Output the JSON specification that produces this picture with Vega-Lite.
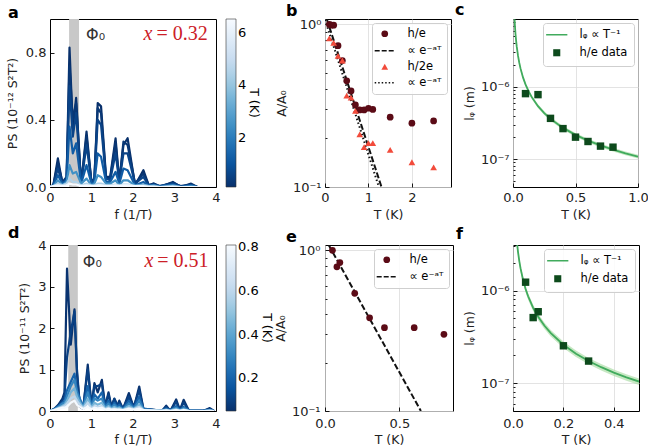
{
  "$schema": "https://vega.github.io/schema/vega-lite/v6.json",
  "background": "white",
  "padding": {"left": 5, "top": 1, "right": 5, "bottom": 5},
  "config": {
    "font": "DejaVu Sans",
    "view": {"stroke": "#000", "strokeWidth": 1},
    "axis": {
      "domain": false, "grid": false, "tickColor": "#000", "tickSize": -4, "tickWidth": 0.9,
      "labelPadding": 8, "labelFontSize": 13, "labelColor": "#222", "titleFontSize": 12.5,
      "titleFontWeight": "normal", "titleColor": "#222", "labelFlush": false, "labelOverlap": false,
      "gridColor": "#dcdcdc", "gridWidth": 0.8
    },
    "title": {"fontSize": 16, "fontWeight": "bold", "anchor": "start", "color": "#000", "frame": "group"},
    "legend": {"labelFont": "DejaVu Sans", "titleFont": "DejaVu Sans"}
  },
  "resolve": {
    "scale": {"color": "independent", "shape": "independent", "strokeDash": "independent"},
    "legend": {"color": "independent", "shape": "independent"}
  },
  "datasets": {
    "fitC": [
      {"T": 0.0125, "l": 8.64e-6, "lo": 8.12e-6, "hi": 9.16e-6},
      {"T": 0.015, "l": 7.2e-6, "lo": 6.77e-6, "hi": 7.63e-6},
      {"T": 0.02, "l": 5.4e-6, "lo": 5.08e-6, "hi": 5.72e-6},
      {"T": 0.025, "l": 4.32e-6, "lo": 4.06e-6, "hi": 4.58e-6},
      {"T": 0.03, "l": 3.6e-6, "lo": 3.38e-6, "hi": 3.82e-6},
      {"T": 0.04, "l": 2.7e-6, "lo": 2.54e-6, "hi": 2.86e-6},
      {"T": 0.05, "l": 2.16e-6, "lo": 2.03e-6, "hi": 2.29e-6},
      {"T": 0.06, "l": 1.8e-6, "lo": 1.69e-6, "hi": 1.91e-6},
      {"T": 0.08, "l": 1.35e-6, "lo": 1.27e-6, "hi": 1.43e-6},
      {"T": 0.1, "l": 1.08e-6, "lo": 1.015e-6, "hi": 1.145e-6},
      {"T": 0.125, "l": 8.64e-7, "lo": 8.12e-7, "hi": 9.16e-7},
      {"T": 0.15, "l": 7.2e-7, "lo": 6.77e-7, "hi": 7.63e-7},
      {"T": 0.2, "l": 5.4e-7, "lo": 5.08e-7, "hi": 5.72e-7},
      {"T": 0.25, "l": 4.32e-7, "lo": 4.06e-7, "hi": 4.58e-7},
      {"T": 0.3, "l": 3.6e-7, "lo": 3.38e-7, "hi": 3.82e-7},
      {"T": 0.4, "l": 2.7e-7, "lo": 2.54e-7, "hi": 2.86e-7},
      {"T": 0.5, "l": 2.16e-7, "lo": 2.03e-7, "hi": 2.29e-7},
      {"T": 0.6, "l": 1.8e-7, "lo": 1.69e-7, "hi": 1.91e-7},
      {"T": 0.7, "l": 1.543e-7, "lo": 1.45e-7, "hi": 1.636e-7},
      {"T": 0.8, "l": 1.35e-7, "lo": 1.27e-7, "hi": 1.43e-7},
      {"T": 0.9, "l": 1.2e-7, "lo": 1.128e-7, "hi": 1.272e-7},
      {"T": 1.0, "l": 1.08e-7, "lo": 1.015e-7, "hi": 1.145e-7}
    ],
    "fitF": [
      {"T": 0.016, "l": 3.25e-6, "lo": 2.99e-6, "hi": 3.51e-6},
      {"T": 0.02, "l": 2.6e-6, "lo": 2.39e-6, "hi": 2.81e-6},
      {"T": 0.025, "l": 2.08e-6, "lo": 1.91e-6, "hi": 2.25e-6},
      {"T": 0.03, "l": 1.733e-6, "lo": 1.595e-6, "hi": 1.872e-6},
      {"T": 0.04, "l": 1.3e-6, "lo": 1.196e-6, "hi": 1.404e-6},
      {"T": 0.05, "l": 1.04e-6, "lo": 9.57e-7, "hi": 1.123e-6},
      {"T": 0.06, "l": 8.67e-7, "lo": 7.97e-7, "hi": 9.36e-7},
      {"T": 0.08, "l": 6.5e-7, "lo": 5.98e-7, "hi": 7.02e-7},
      {"T": 0.1, "l": 5.2e-7, "lo": 4.78e-7, "hi": 5.62e-7},
      {"T": 0.125, "l": 4.16e-7, "lo": 3.83e-7, "hi": 4.49e-7},
      {"T": 0.15, "l": 3.47e-7, "lo": 3.19e-7, "hi": 3.74e-7},
      {"T": 0.2, "l": 2.6e-7, "lo": 2.39e-7, "hi": 2.81e-7},
      {"T": 0.25, "l": 2.08e-7, "lo": 1.91e-7, "hi": 2.25e-7},
      {"T": 0.3, "l": 1.733e-7, "lo": 1.595e-7, "hi": 1.872e-7},
      {"T": 0.35, "l": 1.486e-7, "lo": 1.367e-7, "hi": 1.605e-7},
      {"T": 0.4, "l": 1.3e-7, "lo": 1.196e-7, "hi": 1.404e-7},
      {"T": 0.45, "l": 1.156e-7, "lo": 1.063e-7, "hi": 1.248e-7},
      {"T": 0.5, "l": 1.04e-7, "lo": 9.57e-8, "hi": 1.123e-7}
    ]
  },
  "bounds": "flush",
  "columns": 5,
  "spacing": {"row": 58, "column": 0},
  "concat": [
    {
      "width": 166, "height": 168,
      "title": {"text": "a", "dx": -42, "offset": -2},
      "layer": [
        {
          "data": {"values": [{"lo": 0.46, "hi": 0.70}]},
          "mark": {"type": "rect", "color": "#c8c8c8"},
          "encoding": {
            "x": {"field": "lo", "type": "quantitative", "scale": {"domain": [0, 4], "nice": false},
                  "axis": {"values": [0, 1, 2, 3, 4], "format": "d", "title": "f (1/T)", "titlePadding": 4}},
            "x2": {"field": "hi"},
            "y": {"datum": 0, "type": "quantitative", "scale": {"domain": [0, 1], "nice": false},
                  "axis": {"values": [0, 0.2, 0.4, 0.6, 0.8, 1.0], "format": ".1f", "title": "PS (10⁻¹² S²T²)", "titlePadding": 6}},
            "y2": {"datum": 1}
          }
        },
        {
          "data": {"values": [
            {"f": 0.0, "c1": 0, "c2": 0, "c3": 0, "c4": 0, "c5": 0, "c6": 0, "c7": 0},
            {"f": 0.08, "c1": 0.01, "c2": 0.01, "c3": 0.01, "c4": 0.01, "c5": 0.005, "c6": 0.005, "c7": 0.005},
            {"f": 0.19, "c1": 0.17, "c2": 0.14, "c3": 0.11, "c4": 0.07, "c5": 0.04, "c6": 0.02, "c7": 0.01},
            {"f": 0.3, "c1": 0.02, "c2": 0.03, "c3": 0.02, "c4": 0.02, "c5": 0.01, "c6": 0.01, "c7": 0.005},
            {"f": 0.4, "c1": 0.05, "c2": 0.06, "c3": 0.05, "c4": 0.04, "c5": 0.03, "c6": 0.02, "c7": 0.01},
            {"f": 0.47, "c1": 0.83, "c2": 0.72, "c3": 0.6, "c4": 0.36, "c5": 0.13, "c6": 0.05, "c7": 0.02},
            {"f": 0.55, "c1": 0.35, "c2": 0.4, "c3": 0.3, "c4": 0.2, "c5": 0.08, "c6": 0.03, "c7": 0.015},
            {"f": 0.63, "c1": 0.53, "c2": 0.5, "c3": 0.44, "c4": 0.26, "c5": 0.09, "c6": 0.03, "c7": 0.015},
            {"f": 0.75, "c1": 0.01, "c2": 0.02, "c3": 0.02, "c4": 0.02, "c5": 0.02, "c6": 0.01, "c7": 0.005},
            {"f": 0.88, "c1": 0.33, "c2": 0.3, "c3": 0.25, "c4": 0.13, "c5": 0.05, "c6": 0.02, "c7": 0.01},
            {"f": 1.0, "c1": 0.02, "c2": 0.03, "c3": 0.03, "c4": 0.02, "c5": 0.01, "c6": 0.01, "c7": 0.005},
            {"f": 1.07, "c1": 0.05, "c2": 0.05, "c3": 0.04, "c4": 0.03, "c5": 0.02, "c6": 0.01, "c7": 0.005},
            {"f": 1.15, "c1": 0.5, "c2": 0.47, "c3": 0.4, "c4": 0.2, "c5": 0.07, "c6": 0.02, "c7": 0.01},
            {"f": 1.23, "c1": 0.48, "c2": 0.44, "c3": 0.37, "c4": 0.18, "c5": 0.06, "c6": 0.02, "c7": 0.01},
            {"f": 1.35, "c1": 0.06, "c2": 0.05, "c3": 0.05, "c4": 0.03, "c5": 0.02, "c6": 0.01, "c7": 0.005},
            {"f": 1.45, "c1": 0.06, "c2": 0.05, "c3": 0.04, "c4": 0.03, "c5": 0.02, "c6": 0.01, "c7": 0.005},
            {"f": 1.58, "c1": 0.29, "c2": 0.26, "c3": 0.2, "c4": 0.09, "c5": 0.04, "c6": 0.015, "c7": 0.01},
            {"f": 1.67, "c1": 0.03, "c2": 0.03, "c3": 0.03, "c4": 0.02, "c5": 0.01, "c6": 0.01, "c7": 0.005},
            {"f": 1.77, "c1": 0.25, "c2": 0.27, "c3": 0.2, "c4": 0.11, "c5": 0.04, "c6": 0.015, "c7": 0.01},
            {"f": 1.87, "c1": 0.29, "c2": 0.25, "c3": 0.2, "c4": 0.1, "c5": 0.04, "c6": 0.015, "c7": 0.01},
            {"f": 2.05, "c1": 0.01, "c2": 0.02, "c3": 0.02, "c4": 0.01, "c5": 0.01, "c6": 0.005, "c7": 0.005},
            {"f": 2.25, "c1": 0.1, "c2": 0.08, "c3": 0.06, "c4": 0.03, "c5": 0.015, "c6": 0.01, "c7": 0.005},
            {"f": 2.38, "c1": 0.01, "c2": 0.01, "c3": 0.01, "c4": 0.01, "c5": 0.005, "c6": 0.005, "c7": 0},
            {"f": 2.5, "c1": 0.02, "c2": 0.02, "c3": 0.015, "c4": 0.01, "c5": 0.01, "c6": 0.005, "c7": 0},
            {"f": 2.65, "c1": 0.0, "c2": 0.005, "c3": 0.005, "c4": 0.005, "c5": 0, "c6": 0, "c7": 0},
            {"f": 2.96, "c1": 0.03, "c2": 0.025, "c3": 0.02, "c4": 0.015, "c5": 0.01, "c6": 0.005, "c7": 0},
            {"f": 3.15, "c1": 0.0, "c2": 0.005, "c3": 0.005, "c4": 0, "c5": 0, "c6": 0, "c7": 0},
            {"f": 3.4, "c1": 0.02, "c2": 0.015, "c3": 0.01, "c4": 0.01, "c5": 0.005, "c6": 0, "c7": 0},
            {"f": 3.55, "c1": 0, "c2": 0, "c3": 0, "c4": 0, "c5": 0, "c6": 0, "c7": 0},
            {"f": 4.0, "c1": 0, "c2": 0, "c3": 0, "c4": 0, "c5": 0, "c6": 0, "c7": 0}
          ]},
          "transform": [
            {"fold": ["c1", "c2", "c3", "c4", "c5", "c6", "c7"], "as": ["curve", "PS"]},
            {"lookup": "curve", "from": {"data": {"values": [
              {"curve": "c1", "T": 0.13}, {"curve": "c2", "T": 0.3}, {"curve": "c3", "T": 0.6},
              {"curve": "c4", "T": 1.2}, {"curve": "c5", "T": 2.5}, {"curve": "c6", "T": 4.5}, {"curve": "c7", "T": 6.5}
            ]}, "key": "curve", "fields": ["T"]}}
          ],
          "mark": {"type": "line", "strokeWidth": 2.2, "strokeJoin": "round", "clip": true},
          "encoding": {
            "x": {"field": "f", "type": "quantitative"},
            "y": {"field": "PS", "type": "quantitative"},
            "detail": {"field": "curve"},
            "color": {
              "field": "T", "type": "quantitative",
              "scale": {
                "domain": [0.13, 0.93, 1.73, 2.53, 3.33, 4.13, 4.93, 5.73, 6.53],
                "range": ["#08306b", "#08519c", "#2171b5", "#4292c6", "#6baed6", "#9ecae1", "#c6dbef", "#deebf7", "#f7fbff"]
              },
              "legend": {
                "orient": "none", "legendX": 176, "legendY": 0, "direction": "vertical",
                "gradientLength": 168, "gradientThickness": 10, "values": [2, 4, 6], "format": "d",
                "title": "T (K)", "titleOrient": "right", "titleAngle": 270, "titleAnchor": "middle", "titlePadding": 1,
                "titleFontSize": 12.5, "titleFontWeight": "normal", "labelFontSize": 13, "labelOverlap": false,
                "gradientStrokeColor": "#333", "gradientStrokeWidth": 0.6
              }
            }
          }
        },
        {
          "data": {"values": [{}]},
          "mark": {"type": "text", "text": "Φ₀", "align": "left", "baseline": "alphabetic", "fontSize": 16, "color": "#333"},
          "encoding": {"x": {"datum": 0.87}, "y": {"datum": 0.875}}
        },
        {
          "data": {"values": [{}]},
          "mark": {"type": "text", "text": "x", "align": "right", "baseline": "alphabetic", "font": "Liberation Serif", "fontStyle": "italic", "fontSize": 20, "color": "#cc2027"},
          "encoding": {"x": {"datum": 2.47}, "y": {"datum": 0.875}}
        },
        {
          "data": {"values": [{}]},
          "mark": {"type": "text", "text": "= 0.32", "align": "right", "baseline": "alphabetic", "font": "Liberation Serif", "fontSize": 20, "color": "#cc2027"},
          "encoding": {"x": {"datum": 3.8}, "y": {"datum": 0.875}}
        }
      ]
    },
    {"width": 109, "height": 10, "data": {"values": [{}]}, "mark": {"type": "point", "opacity": 0}, "view": {"stroke": null}},
    {
      "width": 126, "height": 168,
      "title": {"text": "b", "dx": -39, "offset": -2},
      "layer": [
        {
          "data": {"values": [
            {"T": 0.04, "A": 1.08, "s": "fit1"}, {"T": 1.3, "A": 0.1, "s": "fit1"},
            {"T": 0.0, "A": 1.07, "s": "fit2"}, {"T": 1.24, "A": 0.1, "s": "fit2"}
          ]},
          "mark": {"type": "line", "strokeWidth": 2, "clip": true, "color": "#111111"},
          "encoding": {
            "x": {"field": "T", "type": "quantitative", "scale": {"domain": [0, 2.9], "nice": false},
                  "axis": {"values": [0, 1, 2], "format": "d", "grid": true, "title": "T (K)", "titlePadding": 4}},
            "y": {"field": "A", "type": "quantitative", "scale": {"type": "log", "domain": [0.1, 1.08], "nice": false},
                  "axis": {"values": [0.1, 0.2, 0.3, 0.4, 0.5, 0.6, 0.7, 0.8, 0.9, 1.0],
                           "labelExpr": "datum.value == 1 ? '10⁰' : datum.value == 0.1 ? '10⁻¹' : ''",
                           "grid": true, "gridOpacity": {"condition": {"test": "datum.value == 1 || datum.value == 0.1", "value": 1}, "value": 0},
                           "tickSize": {"condition": {"test": "datum.value == 1 || datum.value == 0.1", "value": -4}, "value": -2},
                           "title": "A/A₀", "titlePadding": 4}},
            "detail": {"field": "s"},
            "strokeDash": {"condition": {"test": "datum.s == 'fit1'", "value": [6, 2.5]}, "value": [1.5, 2.5]}
          }
        },
        {
          "data": {"values": [
            {"T": 0.1, "A": 1.0, "s": "h/e"}, {"T": 0.15, "A": 0.99, "s": "h/e"}, {"T": 0.2, "A": 0.99, "s": "h/e"},
            {"T": 0.3, "A": 0.74, "s": "h/e"}, {"T": 0.4, "A": 0.6, "s": "h/e"}, {"T": 0.5, "A": 0.45, "s": "h/e"},
            {"T": 0.6, "A": 0.39, "s": "h/e"}, {"T": 0.7, "A": 0.32, "s": "h/e"}, {"T": 0.8, "A": 0.298, "s": "h/e"},
            {"T": 0.9, "A": 0.298, "s": "h/e"}, {"T": 1.0, "A": 0.305, "s": "h/e"}, {"T": 1.1, "A": 0.3, "s": "h/e"},
            {"T": 1.5, "A": 0.269, "s": "h/e"}, {"T": 2.0, "A": 0.247, "s": "h/e"}, {"T": 2.5, "A": 0.255, "s": "h/e"},
            {"T": 0.1, "A": 0.82, "s": "h/2e"}, {"T": 0.2, "A": 0.77, "s": "h/2e"}, {"T": 0.3, "A": 0.64, "s": "h/2e"},
            {"T": 0.4, "A": 0.6, "s": "h/2e"}, {"T": 0.5, "A": 0.365, "s": "h/2e"}, {"T": 0.6, "A": 0.355, "s": "h/2e"},
            {"T": 0.7, "A": 0.294, "s": "h/2e"}, {"T": 0.8, "A": 0.211, "s": "h/2e"}, {"T": 0.9, "A": 0.176, "s": "h/2e"},
            {"T": 1.0, "A": 0.186, "s": "h/2e"}, {"T": 1.1, "A": 0.186, "s": "h/2e"}, {"T": 1.5, "A": 0.169, "s": "h/2e"},
            {"T": 2.0, "A": 0.142, "s": "h/2e"}, {"T": 2.5, "A": 0.132, "s": "h/2e"}
          ]},
          "mark": {
            "type": "point", "filled": true, "size": 45, "opacity": 1, "strokeWidth": 2,
            "fill": {"expr": "datum.s == 'h/e' || datum.value == 'h/e' ? '#5b0b16' : datum.s == 'h/2e' || datum.value == 'h/2e' ? '#f24b3b' : 'transparent'"},
            "stroke": {"expr": "datum.value == 'fit1' || datum.value == 'fit2' ? '#111111' : 'transparent'"}
          },
          "encoding": {
            "x": {"field": "T", "type": "quantitative"},
            "y": {"field": "A", "type": "quantitative"},
            "shape": {
              "field": "s", "type": "nominal",
              "scale": {"domain": ["h/e", "fit1", "h/2e", "fit2"], "range": ["circle", "M-3,0H3", "triangle-up", "M-3,0H3"]},
              "legend": {
                "title": null, "orient": "top-right", "offset": 4, "padding": 5, "rowPadding": 3,
                "fillColor": "rgba(255,255,255,0.85)", "strokeColor": "#cfcfcf", "cornerRadius": 3,
                "labelFontSize": 11.5, "symbolOffset": 2, "labelOffset": 17, "symbolSize": 45,
                "symbolDash": {"expr": "datum.value == 'fit1' ? [5, 2] : datum.value == 'fit2' ? [1.5, 2] : [1, 0]"},
                "labelExpr": "datum.label == 'fit1' || datum.label == 'fit2' ? '∝ e⁻ᵃᵀ' : datum.label"
              }
            }
          }
        }
      ]
    },
    {"width": 60, "height": 10, "data": {"values": [{}]}, "mark": {"type": "point", "opacity": 0}, "view": {"stroke": null}},
    {
      "width": 125, "height": 168,
      "title": {"text": "c", "dx": -58, "offset": -2},
      "layer": [
        {
          "data": {"name": "fitC"},
          "mark": {"type": "area", "color": "#a1d99b", "opacity": 0.6, "clip": true},
          "encoding": {
            "x": {"field": "T", "type": "quantitative", "scale": {"domain": [0, 1], "nice": false},
                  "axis": {"values": [0, 0.5, 1], "format": ".1f", "grid": true, "title": "T (K)", "titlePadding": 4}},
            "y": {"field": "lo", "type": "quantitative", "scale": {"type": "log", "domain": [4.1e-8, 8.7e-6], "nice": false},
                  "axis": {"values": [5e-8, 6e-8, 7e-8, 8e-8, 9e-8, 1e-7, 2e-7, 3e-7, 4e-7, 5e-7, 6e-7, 7e-7, 8e-7, 9e-7, 1e-6, 2e-6, 3e-6, 4e-6, 5e-6, 6e-6, 7e-6, 8e-6],
                           "labelExpr": "datum.value == 1e-6 ? '10⁻⁶' : datum.value == 1e-7 ? '10⁻⁷' : ''",
                           "grid": true, "gridOpacity": {"condition": {"test": "datum.value == 1e-6 || datum.value == 1e-7", "value": 1}, "value": 0},
                           "tickSize": {"condition": {"test": "datum.value == 1e-6 || datum.value == 1e-7", "value": -4}, "value": -2},
                           "title": "lᵩ (m)", "titlePadding": 4}},
            "y2": {"field": "hi"}
          }
        },
        {
          "data": {"name": "fitC"},
          "mark": {"type": "line", "color": "#41ab5d", "strokeWidth": 1.8, "clip": true},
          "encoding": {"x": {"field": "T", "type": "quantitative"}, "y": {"field": "l", "type": "quantitative"}}
        },
        {
          "data": {"values": [
            {"T": 0.1, "l": 8.05e-7, "s": "h/e data"}, {"T": 0.2, "l": 7.8e-7, "s": "h/e data"},
            {"T": 0.3, "l": 3.66e-7, "s": "h/e data"}, {"T": 0.4, "l": 2.64e-7, "s": "h/e data"},
            {"T": 0.5, "l": 2.01e-7, "s": "h/e data"}, {"T": 0.6, "l": 1.75e-7, "s": "h/e data"},
            {"T": 0.7, "l": 1.51e-7, "s": "h/e data"}, {"T": 0.8, "l": 1.46e-7, "s": "h/e data"}
          ]},
          "mark": {
            "type": "point", "filled": true, "size": 55, "opacity": 1, "strokeWidth": 2,
            "fill": {"expr": "datum.value == 'fit' ? 'transparent' : '#0d4a1c'"},
            "stroke": {"expr": "datum.value == 'fit' ? '#41ab5d' : 'transparent'"}
          },
          "encoding": {
            "x": {"field": "T", "type": "quantitative"},
            "y": {"field": "l", "type": "quantitative"},
            "shape": {
              "field": "s", "type": "nominal",
              "scale": {"domain": ["fit", "h/e data"], "range": ["M-3,0H3", "square"]},
              "legend": {
                "title": null, "orient": "top-right", "offset": 4, "padding": 6, "rowPadding": 5,
                "fillColor": "rgba(255,255,255,0.85)", "strokeColor": "#cfcfcf", "cornerRadius": 3,
                "labelFontSize": 11.5, "symbolOffset": 2, "labelOffset": 17, "symbolSize": 50,
                "labelExpr": "datum.label == 'fit' ? 'lᵩ ∝ T⁻¹' : datum.label"
              }
            }
          }
        }
      ]
    },
    {
      "width": 166, "height": 166,
      "title": {"text": "d", "dx": -42, "offset": -2},
      "layer": [
        {
          "data": {"values": [{"lo": 0.44, "hi": 0.67}]},
          "mark": {"type": "rect", "color": "#c8c8c8"},
          "encoding": {
            "x": {"field": "lo", "type": "quantitative", "scale": {"domain": [0, 4], "nice": false},
                  "axis": {"values": [0, 1, 2, 3, 4], "format": "d", "title": "f (1/T)", "titlePadding": 3, "labelPadding": 10}},
            "x2": {"field": "hi"},
            "y": {"datum": 0, "type": "quantitative", "scale": {"domain": [0, 4], "nice": false},
                  "axis": {"values": [0, 1, 2, 3, 4], "format": "d", "title": "PS (10⁻¹¹ S²T²)", "titlePadding": 6}},
            "y2": {"datum": 4}
          }
        },
        {
          "data": {"values": [
            {"f": 0.0, "c1": 0, "c2": 0, "c3": 0, "c4": 0, "c5": 0, "c6": 0, "c7": 0},
            {"f": 0.1, "c1": 0.05, "c2": 0.05, "c3": 0.04, "c4": 0.04, "c5": 0.03, "c6": 0.02, "c7": 0.02},
            {"f": 0.2, "c1": 0.15, "c2": 0.12, "c3": 0.12, "c4": 0.1, "c5": 0.08, "c6": 0.06, "c7": 0.05},
            {"f": 0.3, "c1": 0.3, "c2": 0.25, "c3": 0.2, "c4": 0.18, "c5": 0.12, "c6": 0.1, "c7": 0.08},
            {"f": 0.35, "c1": 0.45, "c2": 0.35, "c3": 0.25, "c4": 0.2, "c5": 0.15, "c6": 0.12, "c7": 0.08},
            {"f": 0.41, "c1": 3.43, "c2": 1.3, "c3": 0.5, "c4": 0.35, "c5": 0.25, "c6": 0.18, "c7": 0.1},
            {"f": 0.5, "c1": 1.6, "c2": 1.9, "c3": 0.7, "c4": 0.6, "c5": 0.45, "c6": 0.3, "c7": 0.2},
            {"f": 0.59, "c1": 2.45, "c2": 2.4, "c3": 0.9, "c4": 0.75, "c5": 0.55, "c6": 0.35, "c7": 0.25},
            {"f": 0.65, "c1": 0.9, "c2": 1.0, "c3": 0.5, "c4": 0.45, "c5": 0.35, "c6": 0.25, "c7": 0.15},
            {"f": 0.72, "c1": 0.1, "c2": 0.12, "c3": 0.3, "c4": 0.25, "c5": 0.2, "c6": 0.15, "c7": 0.1},
            {"f": 0.8, "c1": 0.05, "c2": 0.08, "c3": 0.1, "c4": 0.1, "c5": 0.08, "c6": 0.06, "c7": 0.05},
            {"f": 0.91, "c1": 1.12, "c2": 1.0, "c3": 0.6, "c4": 0.45, "c5": 0.3, "c6": 0.2, "c7": 0.1},
            {"f": 1.0, "c1": 0.1, "c2": 0.15, "c3": 0.12, "c4": 0.1, "c5": 0.08, "c6": 0.06, "c7": 0.04},
            {"f": 1.07, "c1": 0.67, "c2": 0.6, "c3": 0.4, "c4": 0.3, "c5": 0.2, "c6": 0.12, "c7": 0.08},
            {"f": 1.15, "c1": 0.45, "c2": 0.6, "c3": 0.3, "c4": 0.25, "c5": 0.15, "c6": 0.1, "c7": 0.06},
            {"f": 1.25, "c1": 0.75, "c2": 0.65, "c3": 0.45, "c4": 0.3, "c5": 0.2, "c6": 0.12, "c7": 0.08},
            {"f": 1.33, "c1": 0.1, "c2": 0.12, "c3": 0.1, "c4": 0.08, "c5": 0.06, "c6": 0.04, "c7": 0.03},
            {"f": 1.41, "c1": 0.45, "c2": 0.4, "c3": 0.25, "c4": 0.18, "c5": 0.12, "c6": 0.08, "c7": 0.05},
            {"f": 1.48, "c1": 0.1, "c2": 0.1, "c3": 0.08, "c4": 0.06, "c5": 0.05, "c6": 0.04, "c7": 0.03},
            {"f": 1.55, "c1": 0.29, "c2": 0.3, "c3": 0.2, "c4": 0.15, "c5": 0.1, "c6": 0.06, "c7": 0.04},
            {"f": 1.62, "c1": 0.12, "c2": 0.15, "c3": 0.1, "c4": 0.08, "c5": 0.06, "c6": 0.04, "c7": 0.03},
            {"f": 1.67, "c1": 0.25, "c2": 0.2, "c3": 0.15, "c4": 0.1, "c5": 0.08, "c6": 0.05, "c7": 0.03},
            {"f": 1.76, "c1": 0.05, "c2": 0.06, "c3": 0.05, "c4": 0.04, "c5": 0.03, "c6": 0.02, "c7": 0.02},
            {"f": 1.9, "c1": 0.43, "c2": 0.35, "c3": 0.25, "c4": 0.18, "c5": 0.12, "c6": 0.08, "c7": 0.05},
            {"f": 2.02, "c1": 0.08, "c2": 0.1, "c3": 0.08, "c4": 0.06, "c5": 0.05, "c6": 0.04, "c7": 0.03},
            {"f": 2.15, "c1": 0.59, "c2": 0.5, "c3": 0.35, "c4": 0.25, "c5": 0.15, "c6": 0.1, "c7": 0.06},
            {"f": 2.25, "c1": 0.05, "c2": 0.06, "c3": 0.05, "c4": 0.04, "c5": 0.03, "c6": 0.02, "c7": 0.02},
            {"f": 2.5, "c1": 0.03, "c2": 0.03, "c3": 0.02, "c4": 0.02, "c5": 0.02, "c6": 0.01, "c7": 0.01},
            {"f": 2.7, "c1": 0.0, "c2": 0.01, "c3": 0.01, "c4": 0.01, "c5": 0.01, "c6": 0.01, "c7": 0.0},
            {"f": 2.8, "c1": 0.13, "c2": 0.1, "c3": 0.06, "c4": 0.04, "c5": 0.03, "c6": 0.02, "c7": 0.01},
            {"f": 2.9, "c1": 0.0, "c2": 0.01, "c3": 0.01, "c4": 0.01, "c5": 0.01, "c6": 0.0, "c7": 0.0},
            {"f": 3.04, "c1": 0.28, "c2": 0.22, "c3": 0.12, "c4": 0.08, "c5": 0.05, "c6": 0.03, "c7": 0.02},
            {"f": 3.13, "c1": 0.02, "c2": 0.03, "c3": 0.02, "c4": 0.02, "c5": 0.01, "c6": 0.01, "c7": 0.0},
            {"f": 3.22, "c1": 0.27, "c2": 0.2, "c3": 0.1, "c4": 0.07, "c5": 0.04, "c6": 0.03, "c7": 0.02},
            {"f": 3.35, "c1": 0.0, "c2": 0.01, "c3": 0.01, "c4": 0.01, "c5": 0.0, "c6": 0.0, "c7": 0.0},
            {"f": 3.7, "c1": 0.0, "c2": 0.01, "c3": 0.01, "c4": 0.0, "c5": 0.0, "c6": 0.0, "c7": 0.0},
            {"f": 3.85, "c1": 0.07, "c2": 0.05, "c3": 0.03, "c4": 0.02, "c5": 0.01, "c6": 0.01, "c7": 0.0},
            {"f": 3.95, "c1": 0, "c2": 0, "c3": 0, "c4": 0, "c5": 0, "c6": 0, "c7": 0}
          ]},
          "transform": [
            {"fold": ["c1", "c2", "c3", "c4", "c5", "c6", "c7"], "as": ["curve", "PS"]},
            {"lookup": "curve", "from": {"data": {"values": [
              {"curve": "c1", "T": 0.06}, {"curve": "c2", "T": 0.1}, {"curve": "c3", "T": 0.2},
              {"curve": "c4", "T": 0.3}, {"curve": "c5", "T": 0.45}, {"curve": "c6", "T": 0.6}, {"curve": "c7", "T": 0.8}
            ]}, "key": "curve", "fields": ["T"]}}
          ],
          "mark": {"type": "line", "strokeWidth": 2.2, "strokeJoin": "round", "clip": true},
          "encoding": {
            "x": {"field": "f", "type": "quantitative"},
            "y": {"field": "PS", "type": "quantitative"},
            "detail": {"field": "curve"},
            "color": {
              "field": "T", "type": "quantitative",
              "scale": {
                "domain": [0.05, 0.145, 0.24, 0.335, 0.43, 0.525, 0.62, 0.715, 0.81],
                "range": ["#08306b", "#08519c", "#2171b5", "#4292c6", "#6baed6", "#9ecae1", "#c6dbef", "#deebf7", "#f7fbff"]
              },
              "legend": {
                "orient": "none", "legendX": 176, "legendY": 0, "direction": "vertical",
                "gradientLength": 166, "gradientThickness": 10, "values": [0.2, 0.4, 0.6, 0.8], "format": ".1f",
                "title": "T (K)", "titleOrient": "right", "titleAngle": 270, "titleAnchor": "middle", "titlePadding": 1,
                "titleFontSize": 12.5, "titleFontWeight": "normal", "labelFontSize": 13, "labelOverlap": false,
                "gradientStrokeColor": "#333", "gradientStrokeWidth": 0.6
              }
            }
          }
        },
        {
          "data": {"values": [{}]},
          "mark": {"type": "text", "text": "Φ₀", "align": "left", "baseline": "alphabetic", "fontSize": 16, "color": "#333"},
          "encoding": {"x": {"datum": 0.79}, "y": {"datum": 3.46}}
        },
        {
          "data": {"values": [{}]},
          "mark": {"type": "text", "text": "x", "align": "right", "baseline": "alphabetic", "font": "Liberation Serif", "fontStyle": "italic", "fontSize": 20, "color": "#cc2027"},
          "encoding": {"x": {"datum": 2.49}, "y": {"datum": 3.46}}
        },
        {
          "data": {"values": [{}]},
          "mark": {"type": "text", "text": "= 0.51", "align": "right", "baseline": "alphabetic", "font": "Liberation Serif", "fontSize": 20, "color": "#cc2027"},
          "encoding": {"x": {"datum": 3.82}, "y": {"datum": 3.46}}
        }
      ]
    },
    {"width": 109, "height": 10, "data": {"values": [{}]}, "mark": {"type": "point", "opacity": 0}, "view": {"stroke": null}},
    {
      "width": 128, "height": 166,
      "title": {"text": "e", "dx": -39, "offset": -2},
      "layer": [
        {
          "data": {"values": [
            {"T": 0.025, "A": 1.08, "s": "fit1"}, {"T": 0.645, "A": 0.1, "s": "fit1"}
          ]},
          "mark": {"type": "line", "strokeWidth": 2, "clip": true, "color": "#111111", "strokeDash": [6, 2.5]},
          "encoding": {
            "x": {"field": "T", "type": "quantitative", "scale": {"domain": [0, 0.861], "nice": false},
                  "axis": {"values": [0, 0.5], "format": ".1f", "grid": true, "title": "T (K)", "titlePadding": 3, "labelPadding": 10}},
            "y": {"field": "A", "type": "quantitative", "scale": {"type": "log", "domain": [0.1, 1.08], "nice": false},
                  "axis": {"values": [0.1, 0.2, 0.3, 0.4, 0.5, 0.6, 0.7, 0.8, 0.9, 1.0],
                           "labelExpr": "datum.value == 1 ? '10⁰' : datum.value == 0.1 ? '10⁻¹' : ''",
                           "grid": true, "gridOpacity": {"condition": {"test": "datum.value == 1 || datum.value == 0.1", "value": 1}, "value": 0},
                           "tickSize": {"condition": {"test": "datum.value == 1 || datum.value == 0.1", "value": -4}, "value": -2},
                           "labelPadding": 9, "title": "A/A₀", "titlePadding": 4}}
          }
        },
        {
          "data": {"values": [
            {"T": 0.05, "A": 1.0, "s": "h/e"}, {"T": 0.08, "A": 0.79, "s": "h/e"}, {"T": 0.1, "A": 0.84, "s": "h/e"},
            {"T": 0.2, "A": 0.54, "s": "h/e"}, {"T": 0.3, "A": 0.38, "s": "h/e"}, {"T": 0.4, "A": 0.33, "s": "h/e"},
            {"T": 0.6, "A": 0.33, "s": "h/e"}, {"T": 0.8, "A": 0.3, "s": "h/e"}
          ]},
          "mark": {
            "type": "point", "filled": true, "size": 45, "opacity": 1, "strokeWidth": 2,
            "fill": {"expr": "datum.value == 'fit1' ? 'transparent' : '#5b0b16'"},
            "stroke": {"expr": "datum.value == 'fit1' ? '#111111' : 'transparent'"}
          },
          "encoding": {
            "x": {"field": "T", "type": "quantitative"},
            "y": {"field": "A", "type": "quantitative"},
            "shape": {
              "field": "s", "type": "nominal",
              "scale": {"domain": ["h/e", "fit1"], "range": ["circle", "M-3,0H3"]},
              "legend": {
                "title": null, "orient": "top-right", "offset": 4, "padding": 5, "rowPadding": 3,
                "fillColor": "rgba(255,255,255,0.85)", "strokeColor": "#cfcfcf", "cornerRadius": 3,
                "labelFontSize": 11.5, "symbolOffset": 2, "labelOffset": 17, "symbolSize": 45,
                "symbolDash": {"expr": "datum.value == 'fit1' ? [5, 2] : [1, 0]"},
                "labelExpr": "datum.label == 'fit1' ? '∝ e⁻ᵃᵀ' : datum.label"
              }
            }
          }
        }
      ]
    },
    {"width": 60, "height": 10, "data": {"values": [{}]}, "mark": {"type": "point", "opacity": 0}, "view": {"stroke": null}},
    {
      "width": 126, "height": 166,
      "title": {"text": "f", "dx": -57, "offset": -2},
      "layer": [
        {
          "data": {"name": "fitF"},
          "mark": {"type": "area", "color": "#a1d99b", "opacity": 0.6, "clip": true},
          "encoding": {
            "x": {"field": "T", "type": "quantitative", "scale": {"domain": [0, 0.5], "nice": false},
                  "axis": {"values": [0, 0.2, 0.4], "format": ".1f", "grid": true, "title": "T (K)", "titlePadding": 3, "labelPadding": 10}},
            "y": {"field": "lo", "type": "quantitative", "scale": {"type": "log", "domain": [5e-8, 3.1e-6], "nice": false},
                  "axis": {"values": [5e-8, 6e-8, 7e-8, 8e-8, 9e-8, 1e-7, 2e-7, 3e-7, 4e-7, 5e-7, 6e-7, 7e-7, 8e-7, 9e-7, 1e-6, 2e-6, 3e-6],
                           "labelExpr": "datum.value == 1e-6 ? '10⁻⁶' : datum.value == 1e-7 ? '10⁻⁷' : ''",
                           "grid": true, "gridOpacity": {"condition": {"test": "datum.value == 1e-6 || datum.value == 1e-7", "value": 1}, "value": 0},
                           "tickSize": {"condition": {"test": "datum.value == 1e-6 || datum.value == 1e-7", "value": -4}, "value": -2},
                           "title": "lᵩ (m)", "titlePadding": 4}},
            "y2": {"field": "hi"}
          }
        },
        {
          "data": {"name": "fitF"},
          "mark": {"type": "line", "color": "#41ab5d", "strokeWidth": 1.8, "clip": true},
          "encoding": {"x": {"field": "T", "type": "quantitative"}, "y": {"field": "l", "type": "quantitative"}}
        },
        {
          "data": {"values": [
            {"T": 0.05, "l": 1.23e-6, "s": "h/e data"}, {"T": 0.08, "l": 5.1e-7, "s": "h/e data"},
            {"T": 0.1, "l": 5.9e-7, "s": "h/e data"}, {"T": 0.2, "l": 2.53e-7, "s": "h/e data"},
            {"T": 0.3, "l": 1.73e-7, "s": "h/e data"}
          ]},
          "mark": {
            "type": "point", "filled": true, "size": 55, "opacity": 1, "strokeWidth": 2,
            "fill": {"expr": "datum.value == 'fit' ? 'transparent' : '#0d4a1c'"},
            "stroke": {"expr": "datum.value == 'fit' ? '#41ab5d' : 'transparent'"}
          },
          "encoding": {
            "x": {"field": "T", "type": "quantitative"},
            "y": {"field": "l", "type": "quantitative"},
            "shape": {
              "field": "s", "type": "nominal",
              "scale": {"domain": ["fit", "h/e data"], "range": ["M-3,0H3", "square"]},
              "legend": {
                "title": null, "orient": "top-right", "offset": 4, "padding": 6, "rowPadding": 5,
                "fillColor": "rgba(255,255,255,0.85)", "strokeColor": "#cfcfcf", "cornerRadius": 3,
                "labelFontSize": 11.5, "symbolOffset": 2, "labelOffset": 17, "symbolSize": 50,
                "labelExpr": "datum.label == 'fit' ? 'lᵩ ∝ T⁻¹' : datum.label"
              }
            }
          }
        }
      ]
    }
  ]
}
